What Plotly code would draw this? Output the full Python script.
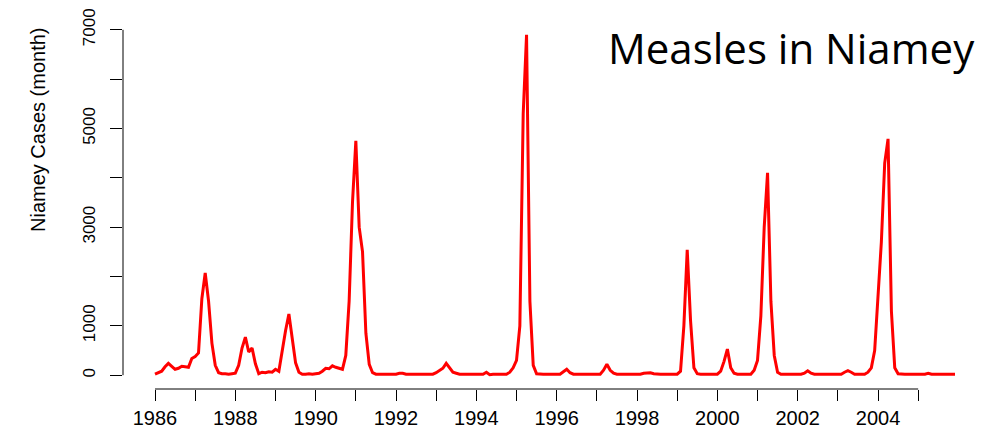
import plotly.graph_objects as go

# Monthly measles cases reported in Niamey, Jan 1986 - Dec 2005 (one list per year)
cases_1986 = [20, 50, 80, 170, 240, 180, 120, 140, 180, 170, 160, 340]
cases_1987 = [380, 450, 1550, 2070, 1500, 650, 200, 50, 30, 30, 20, 30]
cases_1988 = [40, 200, 550, 770, 470, 550, 230, 30, 60, 50, 70, 60]
cases_1989 = [120, 80, 500, 900, 1240, 700, 250, 60, 20, 20, 30, 20]
cases_1990 = [30, 40, 80, 140, 130, 190, 160, 140, 120, 400, 1500, 3500]
cases_1991 = [4750, 3000, 2500, 850, 220, 50, 20, 20, 20, 20, 20, 20]
cases_1992 = [20, 40, 40, 20, 20, 20, 20, 20, 20, 20, 20, 20]
cases_1993 = [50, 100, 140, 240, 140, 60, 40, 20, 20, 20, 20, 20]
cases_1994 = [20, 20, 20, 60, 10, 20, 20, 20, 20, 20, 60, 150]
cases_1995 = [300, 1000, 5300, 6900, 1500, 200, 30, 20, 20, 20, 20, 20]
cases_1996 = [20, 20, 70, 120, 50, 20, 20, 20, 20, 20, 20, 20]
cases_1997 = [20, 20, 100, 220, 100, 40, 20, 20, 20, 20, 20, 20]
cases_1998 = [20, 20, 40, 50, 50, 30, 20, 20, 20, 20, 20, 20]
cases_1999 = [20, 80, 1000, 2540, 1100, 150, 30, 20, 20, 20, 20, 20]
cases_2000 = [20, 80, 280, 530, 150, 40, 20, 20, 20, 20, 20, 100]
cases_2001 = [300, 1200, 3000, 4100, 1500, 400, 60, 20, 20, 20, 20, 20]
cases_2002 = [20, 20, 40, 90, 40, 20, 20, 20, 20, 20, 20, 20]
cases_2003 = [20, 20, 60, 90, 60, 20, 20, 20, 20, 60, 150, 500]
cases_2004 = [1500, 2700, 4300, 4790, 1300, 150, 30, 20, 20, 20, 20, 20]
cases_2005 = [20, 20, 20, 40, 20, 20, 20, 20, 20, 20, 20, 20]

yearly = [
    cases_1986, cases_1987, cases_1988, cases_1989, cases_1990,
    cases_1991, cases_1992, cases_1993, cases_1994, cases_1995,
    cases_1996, cases_1997, cases_1998, cases_1999, cases_2000,
    cases_2001, cases_2002, cases_2003, cases_2004, cases_2005,
]
first_year = 1986

x_tick_years = list(range(1986, 2006))
x_tick_text = [str(y) if y % 2 == 0 else "" for y in x_tick_years]
y_tick_vals = [0, 1000, 2000, 3000, 4000, 5000, 6000, 7000]
y_tick_text = ["0", "1000", "", "3000", "", "5000", "", "7000"]

times = []
cases = []
for i, months in enumerate(yearly):
    for m, v in enumerate(months):
        times.append(first_year + i + m / 12)
        cases.append(v)

# R-style 4% padding around the data range
x_pad = 0.04 * (times[-1] - times[0])
y_pad = 0.04 * 7000

fig = go.Figure()
fig.add_trace(go.Scatter(
    x=times, y=cases, mode="lines",
    line=dict(color="#ff0000", width=3),
    hoverinfo="x+y", showlegend=False,
))

tick_font = dict(family="Liberation Sans, Arial, sans-serif", color="black")

fig.update_layout(
    width=992, height=437,
    margin=dict(l=123, r=5, t=16, b=48),
    paper_bgcolor="white", plot_bgcolor="white",
    xaxis=dict(
        range=[times[0] - x_pad, times[-1] + x_pad],
        tickmode="array", tickvals=x_tick_years, ticktext=x_tick_text,
        ticks="outside", ticklen=11, tickwidth=1, tickcolor="black",
        showgrid=False, zeroline=False, showline=False,
        tickfont=dict(size=20, **tick_font),
    ),
    yaxis=dict(
        range=[-y_pad, 7000 + y_pad],
        tickmode="array", tickvals=y_tick_vals, ticktext=y_tick_text,
        tickangle=-90,
        ticks="outside", ticklen=12, tickwidth=1, tickcolor="black",
        ticklabelstandoff=8,
        showgrid=False, zeroline=False, showline=False,
        tickfont=dict(size=17, **tick_font),
    ),
    shapes=[
        # axis lines spanning only the tick range, as in base R graphics
        dict(type="line", xref="x", yref="paper",
             x0=x_tick_years[0], x1=x_tick_years[-1], y0=0, y1=0,
             line=dict(color="black", width=1)),
        dict(type="line", xref="paper", yref="y",
             x0=0, x1=0, y0=y_tick_vals[0], y1=y_tick_vals[-1],
             line=dict(color="black", width=1)),
    ],
    annotations=[
        dict(text="Niamey Cases (month)", xref="paper", yref="paper",
             x=(38 - 123) / 864, y=(389 - 130) / 373,
             xanchor="center", yanchor="middle", textangle=-90,
             showarrow=False,
             font=dict(size=20, family="Liberation Sans, Arial, sans-serif", color="black")),
        dict(text="Measles in Niamey", xref="paper", yref="paper",
             x=(977 - 123) / 864, y=(389 - 48) / 373,
             xanchor="right", yanchor="middle",
             showarrow=False,
             font=dict(size=42, family="Open Sans, sans-serif", color="black")),
    ],
)

fig.write_html("out.html")
